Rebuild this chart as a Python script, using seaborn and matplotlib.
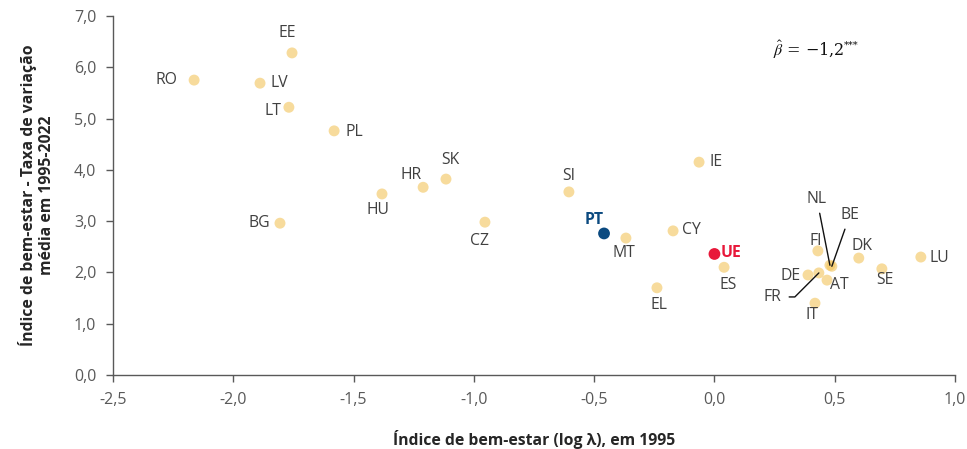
import matplotlib
matplotlib.use("Agg")
import matplotlib.pyplot as plt
import seaborn as sns
import pandas as pd
from matplotlib.ticker import FuncFormatter, MultipleLocator

# ---- data ----
countries = ["RO", "EE", "LV", "LT", "PL", "HU", "HR", "SK", "BG", "CZ",
             "SI", "MT", "EL", "CY", "IE", "ES", "FI", "NL", "BE", "FR",
             "DE", "AT", "IT", "DK", "SE", "LU"]
log_lambda_1995 = [-2.163, -1.756, -1.889, -1.769, -1.581, -1.382, -1.211, -1.116, -1.806, -0.954,
                   -0.605, -0.368, -0.239, -0.172, -0.064, 0.040, 0.430, 0.480, 0.488, 0.434,
                   0.389, 0.468, 0.418, 0.600, 0.696, 0.858]
growth_1995_2022 = [5.75, 6.28, 5.69, 5.22, 4.76, 3.53, 3.66, 3.82, 2.96, 2.98,
                    3.57, 2.67, 1.70, 2.81, 4.15, 2.10, 2.42, 2.14, 2.12, 1.99,
                    1.95, 1.85, 1.40, 2.28, 2.07, 2.30]
highlight = ["PT", "UE"]
highlight_x = [-0.459, 0.0]
highlight_y = [2.76, 2.36]

df = pd.DataFrame({"pais": countries, "x": log_lambda_1995, "y": growth_1995_2022})
dh = pd.DataFrame({"pais": highlight, "x": highlight_x, "y": highlight_y})

# ---- style ----
sns.set_style("white")
plt.rcParams["font.family"] = ["Open Sans", "DejaVu Sans"]
plt.rcParams["mathtext.fontset"] = "stix"

FS = 11.3
fig = plt.figure(figsize=(9.67, 4.49), dpi=100)
ax = fig.add_axes([0.1169, 0.1648, 0.8707, 0.7996])

sns.scatterplot(data=df, x="x", y="y", ax=ax, color="#F2C45A", alpha=0.6,
                s=62, edgecolor="none", zorder=3)
sns.scatterplot(data=dh, x="x", y="y", hue="pais", palette={"PT": "#0B4A80", "UE": "#E8183A"},
                ax=ax, s=72, edgecolor="none", legend=False, zorder=4)

ax.set_xlim(-2.5, 1.0)
ax.set_ylim(0, 7)
ax.xaxis.set_major_locator(MultipleLocator(0.5))
ax.yaxis.set_major_locator(MultipleLocator(1.0))
fmt = FuncFormatter(lambda v, p: f"{v:.1f}".replace(".", ","))
ax.xaxis.set_major_formatter(fmt)
ax.yaxis.set_major_formatter(fmt)

for s in ["top", "right"]:
    ax.spines[s].set_visible(False)
for s in ["left", "bottom"]:
    ax.spines[s].set_color("#595959")
    ax.spines[s].set_linewidth(1.0)
ax.tick_params(axis="both", direction="out", length=5, width=1, color="#595959",
               labelcolor="#595959", labelsize=11.5, left=True, bottom=True)
ax.tick_params(axis="y", pad=7)
ax.tick_params(axis="x", pad=7)

ax.set_xlabel("Índice de bem-estar (log λ), em 1995", fontsize=FS,
              fontweight="bold", color="#262626", labelpad=16)
ax.set_ylabel("Índice de bem-estar - Taxa de variação\nmédia em 1995-2022", fontsize=FS,
              fontweight="bold", color="#262626", labelpad=14, linespacing=1.1)

# label offsets in pixels (dx, dy) relative to point
offsets = {
    "RO": (-28, 0), "EE": (-5, 20), "LV": (19, 0),
    "LT": (-16, -4), "PL": (20, -1), "HU": (-4, -16),
    "HR": (-12, 12), "SK": (4, 19), "BG": (-21, 0),
    "CZ": (-5, -19), "SI": (0, 16), "MT": (-2, -15),
    "EL": (2, -17), "CY": (18, 1), "IE": (17, 0),
    "ES": (4, -18), "FI": (-2, 10), "DE": (-17, -1),
    "AT": (12, -5), "IT": (-3, -12), "DK": (3, 12),
    "SE": (3, -11), "LU": (19, -1),
}
for c, xv, yv in zip(countries, log_lambda_1995, growth_1995_2022):
    if c in offsets:
        dx, dy = offsets[c]
        ax.annotate(c, (xv, yv), xytext=(dx, dy), textcoords="offset pixels",
                    ha="center", va="center", fontsize=FS, color="#404040", zorder=5)

# leader-line labels
lead = {"NL": (-13, 66), "BE": (18, 51)}
for c, (dx, dy) in lead.items():
    i = countries.index(c)
    ax.annotate(c, (log_lambda_1995[i], growth_1995_2022[i]), xytext=(dx, dy),
                textcoords="offset pixels", ha="center", va="center", fontsize=FS,
                color="#404040", zorder=5,
                arrowprops=dict(arrowstyle="-", color="#111111", lw=1.0,
                                shrinkA=2, shrinkB=0))
i = countries.index("FR")
ax.annotate("FR", (log_lambda_1995[i], growth_1995_2022[i]), xytext=(-46, -24),
            textcoords="offset pixels", ha="center", va="center", fontsize=FS,
            color="#404040", zorder=5,
            arrowprops=dict(arrowstyle="-", color="#111111", lw=1.0, shrinkA=3, shrinkB=0,
                            connectionstyle="angle,angleA=0,angleB=45,rad=0"))

# highlighted labels
hl_style = {"PT": ((-10, 13), "#0B4A80"), "UE": ((17, 1), "#E8183A")}
for c, xv, yv in zip(highlight, highlight_x, highlight_y):
    (dx, dy), col = hl_style[c]
    ax.annotate(c, (xv, yv), xytext=(dx, dy), textcoords="offset pixels",
                ha="center", va="center", fontsize=FS, fontweight="bold", color=col, zorder=5)

ax.text(0.826, 0.905, r"$\hat{\beta}$ = −1,2", transform=ax.transAxes,
        ha="center", va="center", fontsize=11.5, color="#111111", family="DejaVu Serif")
ax.text(0.868, 0.918, "***", transform=ax.transAxes,
        ha="left", va="center", fontsize=7, color="#111111", family="DejaVu Serif")

fig.savefig("out.png", dpi=100)
